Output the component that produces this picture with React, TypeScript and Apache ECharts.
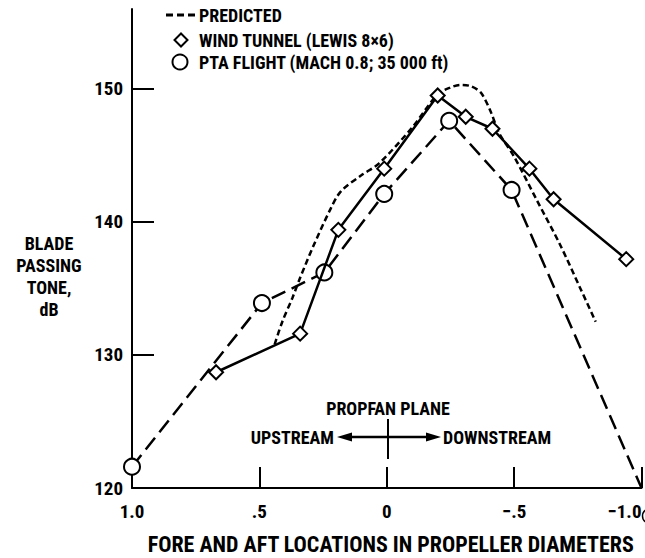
import React, { useEffect, useRef } from "react";
import * as echarts from "echarts";

// ---- data ----
const xTickValues = [1, 0.5, 0, -0.5, -1];
const xTickLabels = ["1.0", ".5", "0", "\u2212.5", "\u22121.0"];
const xTickMarks = [0.5, 0, -0.5, -1];
const yTickValues = [120, 130, 140, 150];
const yTickMarks = [130, 140, 150];

const windTunnelX = [0.67, 0.34, 0.19, 0.01, -0.2, -0.31, -0.415, -0.56, -0.655, -0.94];
const windTunnelY = [128.7, 131.6, 139.4, 144.0, 149.5, 147.9, 147.0, 144.0, 141.7, 137.2];

const ptaX = [1.0, 0.49, 0.245, 0.01, -0.245, -0.49, -1.0];
const ptaY = [121.6, 133.9, 136.2, 142.1, 147.6, 142.4, 120.0];
const ptaMarked = [true, true, true, true, true, true, false];

const predX = [0.44, 0.41, 0.37, 0.34, 0.29, 0.22, 0.18, 0.1, 0.03, -0.1, -0.2, -0.25, -0.29, -0.33, -0.37, -0.41, -0.44, -0.5, -0.59, -0.68, -0.76, -0.82];
const predY = [130.8, 132.5, 134.3, 135.8, 138.1, 141.0, 142.3, 143.5, 144.4, 147.1, 149.6, 150.1, 150.3, 150.2, 149.7, 148.2, 146.7, 144.9, 141.6, 138.3, 135.0, 132.5];

const legendLabels = ["PREDICTED", "WIND TUNNEL (LEWIS 8\u00d76)", "PTA FLIGHT (MACH 0.8; 35 000 ft)"];
const xAxisTitle = "FORE AND AFT LOCATIONS IN PROPELLER DIAMETERS";
const yAxisTitle = "BLADE\nPASSING\nTONE,\ndB";

const FONT = "'Liberation Sans Narrow', 'Roboto Condensed', 'DejaVu Sans Condensed', 'Liberation Sans', sans-serif";
const INK = "#000";

export default function App() {
  const ref = useRef<HTMLDivElement>(null);

  useEffect(() => {
    document.body.style.margin = "0";
    if (!ref.current) return;
    const chart = echarts.init(ref.current, null, { renderer: "svg" });

    const zip = (xs: number[], ys: number[]) => xs.map((x, i) => [x, ys[i]]);

    const textStyle = (extra: any) => ({
      fontFamily: FONT,
      fontWeight: "bold",
      fontSize: 18,
      fill: INK,
      ...extra,
    });

    chart.setOption({
      animation: false,
      backgroundColor: "#fff",
      grid: {
        left: 132,
        right: 3.5,
        top: 9,
        bottom: 70,
        containLabel: false,
        outerBoundsMode: "none",
      },
      xAxis: {
        type: "value",
        min: -1,
        max: 1,
        inverse: true,
        splitLine: { show: false },
        axisLine: { onZero: false, lineStyle: { color: INK, width: 2 } },
        axisTick: {
          inside: true,
          length: 21,
          customValues: xTickMarks,
          lineStyle: { color: INK, width: 2 },
        },
        axisLabel: {
          customValues: xTickValues,
          formatter: (v: number) => {
            const i = xTickValues.findIndex((t) => Math.abs(t - v) < 1e-9);
            return i >= 0 ? xTickLabels[i] : "";
          },
          margin: 14,
          color: INK,
          fontFamily: FONT,
          fontWeight: "bold",
          fontSize: 19,
          alignMaxLabel: "right",
        },
        name: xAxisTitle,
        nameLocation: "middle",
        nameGap: 45,
        nameTextStyle: {
          color: INK,
          fontFamily: FONT,
          fontWeight: "bold",
          fontSize: 22,
          padding: [0, 0, 0, 8],
        },
      },
      yAxis: {
        type: "value",
        min: 120,
        max: 156,
        interval: 10,
        splitLine: { show: false },
        axisLine: { onZero: false, lineStyle: { color: INK, width: 2 } },
        axisTick: {
          inside: true,
          length: 22,
          customValues: yTickMarks,
          lineStyle: { color: INK, width: 2 },
        },
        axisLabel: {
          customValues: yTickValues,
          margin: 9,
          color: INK,
          fontFamily: FONT,
          fontWeight: "bold",
          fontSize: 19,
        },
      },
      series: [
        {
          name: legendLabels[0],
          type: "line",
          data: zip(predX, predY),
          smooth: 0.3,
          showSymbol: false,
          symbol: "none",
          lineStyle: { color: INK, width: 2.5, type: [6, 3.5] },
          z: 2,
        },
        {
          name: legendLabels[2],
          type: "line",
          data: ptaX.map((x, i) => ({
            value: [x, ptaY[i]],
            symbol: ptaMarked[i] ? "circle" : "none",
          })),
          symbol: "circle",
          symbolSize: 16,
          lineStyle: { color: INK, width: 2.5, type: [15, 7] },
          itemStyle: { color: "#fff", borderColor: INK, borderWidth: 2 },
          z: 3,
        },
        {
          name: legendLabels[1],
          type: "line",
          data: zip(windTunnelX, windTunnelY),
          symbol: "diamond",
          symbolSize: 14,
          lineStyle: { color: INK, width: 2.5 },
          itemStyle: { color: "#fff", borderColor: INK, borderWidth: 2 },
          z: 4,
        },
      ],
      graphic: [
        // y-axis title
        {
          type: "text",
          x: 49,
          y: 276,
          style: textStyle({
            text: yAxisTitle,
            fontSize: 18,
            lineHeight: 22,
            align: "center",
            verticalAlign: "middle",
          }),
        },
        // legend
        {
          type: "line",
          shape: { x1: 166, y1: 15, x2: 195, y2: 15 },
          style: { stroke: INK, lineWidth: 3, lineDash: [7, 4] },
        },
        {
          type: "text",
          x: 199,
          y: 15,
          style: textStyle({ text: legendLabels[0], verticalAlign: "middle" }),
        },
        {
          type: "polygon",
          shape: { points: [[181, 33.5], [187.5, 40], [181, 46.5], [174.5, 40]] },
          style: { fill: "#fff", stroke: INK, lineWidth: 2 },
        },
        {
          type: "text",
          x: 199,
          y: 40,
          style: textStyle({ text: legendLabels[1], verticalAlign: "middle" }),
        },
        {
          type: "circle",
          shape: { cx: 180, cy: 62, r: 7.5 },
          style: { fill: "#fff", stroke: INK, lineWidth: 2 },
        },
        {
          type: "text",
          x: 199,
          y: 62,
          style: textStyle({ text: legendLabels[2], verticalAlign: "middle" }),
        },
        // propfan plane annotation
        {
          type: "text",
          x: 388,
          y: 408,
          style: textStyle({ text: "PROPFAN PLANE", align: "center", verticalAlign: "middle" }),
        },
        {
          type: "text",
          x: 334,
          y: 437,
          style: textStyle({ text: "UPSTREAM", align: "right", verticalAlign: "middle" }),
        },
        {
          type: "text",
          x: 443,
          y: 437,
          style: textStyle({ text: "DOWNSTREAM", align: "left", verticalAlign: "middle" }),
        },
        {
          type: "line",
          shape: { x1: 350, y1: 437, x2: 428, y2: 437 },
          style: { stroke: INK, lineWidth: 2.5 },
        },
        {
          type: "polygon",
          shape: { points: [[337, 437], [352, 432.5], [352, 441.5]] },
          style: { fill: INK },
        },
        {
          type: "polygon",
          shape: { points: [[441, 437], [426, 432.5], [426, 441.5]] },
          style: { fill: INK },
        },
        {
          type: "line",
          shape: { x1: 388, y1: 419, x2: 388, y2: 459 },
          style: { stroke: INK, lineWidth: 2 },
        },
        {
          type: "circle",
          shape: { cx: 650, cy: 516, r: 7.5 },
          style: { fill: "none", stroke: INK, lineWidth: 1.5 },
        },
      ],
    });

    return () => chart.dispose();
  }, []);

  return <div ref={ref} style={{ width: 645, height: 558 }} />;
}
